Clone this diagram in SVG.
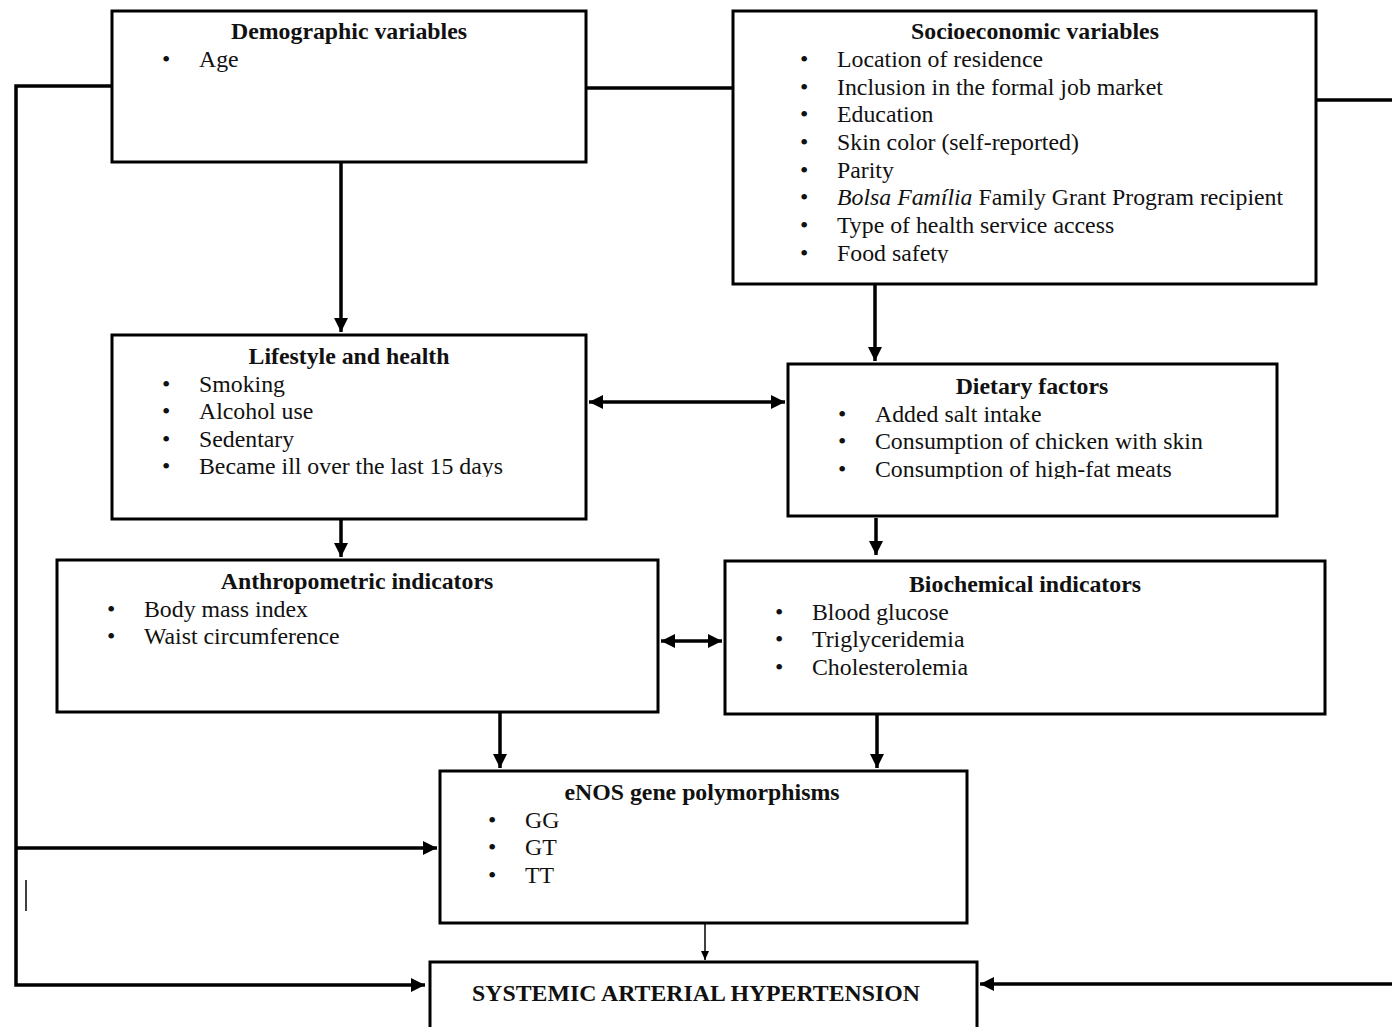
<svg xmlns="http://www.w3.org/2000/svg" width="1392" height="1027" viewBox="0 0 1392 1027">
<style>
.box{fill:#fff;stroke:#000;stroke-width:3}
.t{font-family:"Liberation Serif","Times New Roman",serif;font-size:23.8px;fill:#111;font-weight:bold;text-anchor:middle}
.i{font-family:"Liberation Serif","Times New Roman",serif;font-size:23.8px;fill:#111}
.c{fill:none;stroke:#000;stroke-width:3.5}
.thin{fill:none;stroke:#000;stroke-width:1.5}
</style>
<defs>
<marker id="ah" markerUnits="userSpaceOnUse" markerWidth="16" markerHeight="16" refX="14" refY="8" orient="auto-start-reverse" viewBox="0 0 16 16"><path d="M0,1 L14,8 L0,15 Z" fill="#000"/></marker>
<marker id="ahs" markerUnits="userSpaceOnUse" markerWidth="10" markerHeight="10" refX="9" refY="5" orient="auto" viewBox="0 0 10 10"><path d="M0,1 L9,5 L0,9 Z" fill="#000"/></marker>
<clipPath id="clipS"><rect x="733" y="238" width="583" height="25"/></clipPath>
<clipPath id="clipL"><rect x="112" y="450" width="474" height="27"/></clipPath>
<clipPath id="clipD"><rect x="788" y="453" width="489" height="26"/></clipPath>
</defs>

<g id="connectors">
<path class="c" d="M112,86 H16 V985 H425" marker-end="url(#ah)"/>
<path class="c" d="M16,848 H437" marker-end="url(#ah)"/>
<path class="c" d="M586,88 H733"/>
<path class="c" d="M1316,100 H1392"/>
<path class="c" d="M1392,984 H980" marker-end="url(#ah)"/>
<path class="c" d="M341,162 V332" marker-end="url(#ah)"/>
<path class="c" d="M875,284 V361" marker-end="url(#ah)"/>
<path class="c" d="M589,402 H785" marker-start="url(#ah)" marker-end="url(#ah)"/>
<path class="c" d="M341,519 V557" marker-end="url(#ah)"/>
<path class="c" d="M876,518 V555" marker-end="url(#ah)"/>
<path class="c" d="M661,641 H722" marker-start="url(#ah)" marker-end="url(#ah)"/>
<path class="c" d="M500,712 V768" marker-end="url(#ah)"/>
<path class="c" d="M877,714 V768" marker-end="url(#ah)"/>
<path class="thin" d="M705,923 V960" marker-end="url(#ahs)"/>
<path class="thin" d="M26,880 V911"/>
</g>

<g id="demographic">
<rect class="box" x="112" y="11" width="474" height="151"/>
<text class="t" x="349" y="39">Demographic variables</text>
<text class="i" x="162" y="67">•</text><text class="i" x="199" y="67">Age</text>
</g>

<g id="socioeconomic">
<rect class="box" x="733" y="11" width="583" height="273"/>
<text class="t" x="1035" y="39">Socioeconomic variables</text>
<g class="i">
<text x="800" y="67">•</text><text x="837" y="67">Location of residence</text>
<text x="800" y="95">•</text><text x="837" y="95">Inclusion in the formal job market</text>
<text x="800" y="122">•</text><text x="837" y="122">Education</text>
<text x="800" y="150">•</text><text x="837" y="150">Skin color (self-reported)</text>
<text x="800" y="178">•</text><text x="837" y="178">Parity</text>
<text x="800" y="205">•</text><text x="837" y="205"><tspan font-style="italic">Bolsa Família</tspan> Family Grant Program recipient</text>
<text x="800" y="233">•</text><text x="837" y="233">Type of health service access</text>
<text x="800" y="261">•</text><text x="837" y="261" clip-path="url(#clipS)">Food safety</text>
</g>
</g>

<g id="lifestyle">
<rect class="box" x="112" y="335" width="474" height="184"/>
<text class="t" x="349" y="364">Lifestyle and health</text>
<g class="i">
<text x="162" y="392">•</text><text x="199" y="392">Smoking</text>
<text x="162" y="419">•</text><text x="199" y="419">Alcohol use</text>
<text x="162" y="447">•</text><text x="199" y="447">Sedentary</text>
<text x="162" y="474">•</text><text x="199" y="474" clip-path="url(#clipL)">Became ill over the last 15 days</text>
</g>
</g>

<g id="dietary">
<rect class="box" x="788" y="364" width="489" height="152"/>
<text class="t" x="1032" y="394">Dietary factors</text>
<g class="i">
<text x="838" y="422">•</text><text x="875" y="422">Added salt intake</text>
<text x="838" y="449">•</text><text x="875" y="449">Consumption of chicken with skin</text>
<text x="838" y="477">•</text><text x="875" y="477" clip-path="url(#clipD)">Consumption of high-fat meats</text>
</g>
</g>

<g id="anthropometric">
<rect class="box" x="57" y="560" width="601" height="152"/>
<text class="t" x="357" y="589">Anthropometric indicators</text>
<g class="i">
<text x="107" y="617">•</text><text x="144" y="617">Body mass index</text>
<text x="107" y="644">•</text><text x="144" y="644">Waist circumference</text>
</g>
</g>

<g id="biochemical">
<rect class="box" x="725" y="561" width="600" height="153"/>
<text class="t" x="1025" y="592">Biochemical indicators</text>
<g class="i">
<text x="775" y="620">•</text><text x="812" y="620">Blood glucose</text>
<text x="775" y="647">•</text><text x="812" y="647">Triglyceridemia</text>
<text x="775" y="675">•</text><text x="812" y="675">Cholesterolemia</text>
</g>
</g>

<g id="enos">
<rect class="box" x="440" y="771" width="527" height="152"/>
<text class="t" x="702" y="800">eNOS gene polymorphisms</text>
<g class="i">
<text x="488" y="828">•</text><text x="525" y="828">GG</text>
<text x="488" y="855">•</text><text x="525" y="855">GT</text>
<text x="488" y="883">•</text><text x="525" y="883">TT</text>
</g>
</g>

<g id="hypertension">
<rect class="box" x="430" y="962" width="547" height="80"/>
<text class="t" x="696" y="1001">SYSTEMIC ARTERIAL HYPERTENSION</text>
</g>
</svg>
